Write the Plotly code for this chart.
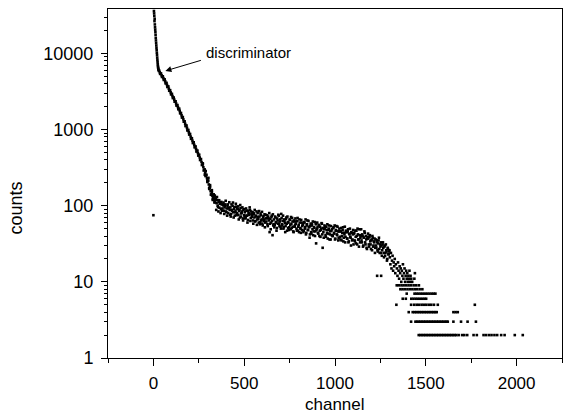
import plotly.graph_objects as go

FONT = "Liberation Sans, Arial, sans-serif"

# ---- data (channel, counts) ----
high_ch = [0, 3, 4, 5, 6, 7, 8, 9, 10, 11, 12, 13, 14, 15, 16, 17, 18, 19, 20,
           21, 22, 23, 24, 25, 26, 27, 28]
high_ct = [75, 36000, 33500, 31000, 26500, 28500, 24000, 22000, 20500, 19000,
           17500, 16000, 14800, 13700, 12700, 11800, 11000, 10200, 9500, 8800,
           8200, 7700, 7200, 6800, 6500, 6300, 6100]

steep_ch = list(range(30, 341, 5))
steep_ct = [5890, 5640, 5400, 5160, 4940, 4730, 4530, 4310, 4070, 3850, 3650,
            3440, 3260, 3080, 2920, 2750, 2610, 2470, 2330, 2200, 2080, 1970,
            1860, 1760, 1640, 1540, 1450, 1360, 1270, 1190, 1120, 1050, 980,
            920, 870, 810, 765, 715, 670, 630, 590, 555, 520, 490, 460, 430,
            405, 375, 345, 320, 295, 270, 250, 230, 210, 190, 172, 155, 141,
            134, 129, 124, 120]

steep2_ch = list(range(32, 338, 5))
steep2_ct = [5920, 5380, 5450, 4900, 5000, 4480, 4560, 4050, 4100, 3620, 3680,
             3230, 3290, 2900, 2940, 2590, 2630, 2320, 2350, 2070, 2100, 1850,
             1880, 1640, 1650, 1440, 1460, 1270, 1280, 1110, 1130, 975, 990,
             860, 875, 755, 770, 665, 680, 585, 600, 515, 530, 455, 468, 398,
             410, 342, 352, 290, 300, 245, 255, 205, 214, 170, 176, 140, 150,
             122, 137, 112]

extra_ch = [272, 283, 288, 297, 303, 308, 312, 318, 322, 327, 332, 337, 338, 342]
extra_ct = [360, 255, 285, 215, 232, 166, 186, 139, 160, 119, 141, 110, 136, 128]

plateau_ch = list(range(344, 1301, 4))
plateau_ct = [
    122, 108, 118, 96, 112, 94, 108, 90, 104, 92,
    101, 86, 95, 104, 84, 92, 99, 80, 94, 88,
    95, 78, 88, 100, 82, 91, 74, 86, 97, 80,
    90, 76, 85, 70, 93, 79, 84, 68, 88, 75,
    82, 70, 86, 74, 65, 80, 76, 88, 69, 78,
    76, 64, 80, 70, 62, 74, 84, 66, 71, 60,
    72, 61, 75, 66, 58, 70, 63, 77, 60, 68,
    69, 57, 72, 64, 45, 67, 60, 74, 41, 55,
    66, 56, 70, 60, 51, 64, 76, 58, 62, 53,
    78, 57, 63, 50, 66, 59, 54, 70, 47, 61,
    60, 52, 65, 49, 58, 69, 53, 45, 62, 56,
    58, 50, 63, 47, 56, 66, 51, 44, 60, 54,
    56, 47, 60, 52, 42, 55, 64, 48, 53, 38,
    54, 45, 58, 49, 41, 52, 61, 46, 32, 50,
    52, 43, 55, 47, 39, 50, 58, 28, 45, 49,
    50, 41, 53, 44, 37, 48, 55, 42, 36, 47,
    49, 40, 52, 43, 36, 47, 54, 41, 46, 38,
    50, 39, 46, 35, 44, 52, 38, 42, 33, 47,
    45, 37, 49, 34, 42, 39, 30, 44, 36, 48,
    43, 35, 47, 32, 40, 50, 36, 29, 41, 38,
    49, 33, 40, 30, 38, 44, 31, 36, 27, 39,
    37, 29, 41, 31, 35, 26, 38, 30, 33, 24,
    36, 28, 33, 25, 35, 27, 31, 24, 30, 26,
    33, 24, 29, 22, 31, 25, 20, 27, 23, 26,
]

plateau2_ch = list(range(346, 1299, 4))
plateau2_ct = [
    88, 130, 100, 84, 118, 106, 80, 112, 86, 104,
    110, 78, 100, 116, 82, 74, 104, 92, 111, 76,
    72, 104, 86, 110, 70, 96, 82, 106, 75, 92,
    98, 66, 88, 102, 72, 81, 95, 64, 90, 73,
    68, 92, 74, 60, 86, 79, 95, 63, 84, 71,
    82, 58, 77, 88, 63, 72, 56, 80, 67, 85,
    57, 79, 64, 83, 55, 73, 66, 52, 76, 62,
    75, 54, 68, 80, 58, 49, 71, 63, 77, 57,
    52, 72, 61, 47, 68, 58, 74, 54, 66, 50,
    69, 55, 74, 52, 63, 45, 67, 58, 72, 51,
    48, 66, 56, 71, 51, 62, 46, 64, 53, 68,
    62, 47, 69, 53, 45, 60, 50, 65, 48, 58,
    45, 61, 50, 66, 44, 57, 48, 63, 52, 42,
    58, 43, 55, 62, 46, 51, 40, 57, 48, 60,
    44, 56, 40, 53, 48, 59, 42, 51, 38, 55,
    53, 39, 48, 57, 43, 50, 36, 46, 54, 41,
    40, 51, 44, 55, 37, 48, 42, 53, 35, 46,
    46, 36, 51, 40, 48, 34, 44, 53, 39, 45,
    37, 46, 33, 43, 50, 38, 45, 35, 42, 31,
    44, 34, 39, 47, 31, 42, 36, 49, 33, 40,
    35, 42, 29, 38, 46, 33, 40, 28, 37, 43,
    31, 39, 34, 27, 36, 40, 29, 34, 37, 28,
    30, 35, 26, 32, 38, 24, 29, 33, 22, 31,
    28, 21, 30, 24, 26, 19, 28, 23, 25,
]

tail_ch = [1232, 1254, 1302, 1305, 1308, 1311, 1314, 1317, 1320, 1323, 1326,
           1329, 1332, 1335, 1338, 1341, 1344, 1347, 1350, 1353, 1356, 1359,
           1362, 1365, 1368, 1371, 1374, 1377, 1380, 1383, 1386, 1389, 1392,
           1395, 1398, 1401, 1404, 1407, 1410, 1413, 1416, 1420, 1425, 1437,
           1440]
tail_ct = [12, 12, 21, 17, 24, 15, 19, 22, 14, 18, 16, 20, 13, 17, 5, 15, 12,
           18, 14, 11, 16, 13, 15, 10, 14, 12, 17, 11, 13, 15, 10, 12, 14, 11,
           13, 10, 12, 11, 14, 10, 12, 11, 10, 11, 13]

# rows of small integer counts in the high-channel tail
row_levels = [9, 8, 7, 6, 5, 4, 3, 2]
row_channels = [
    [1340, 1352, 1366, 1378, 1392, 1405, 1418, 1433, 1447, 1462],
    [1360, 1372, 1385, 1399, 1412, 1426, 1439, 1452, 1466, 1481],
    [1395, 1438, 1449, 1460, 1472, 1484, 1496, 1508, 1520, 1532, 1543, 1553],
    [1373, 1390, 1420, 1432, 1444, 1456, 1468, 1480, 1492, 1502],
    [1419, 1436, 1450, 1463, 1477, 1490, 1503, 1517, 1530, 1545, 1566, 1770],
    [1406, 1428, 1438, 1447, 1457, 1466, 1476, 1485, 1495, 1504, 1514, 1523,
     1533, 1542, 1551, 1560, 1652, 1664, 1676],
    [1419, 1443, 1452, 1461, 1470, 1479, 1488, 1497, 1506, 1515, 1524, 1533,
     1542, 1551, 1560, 1569, 1578, 1587, 1596, 1605, 1614, 1621, 1652, 1694,
     1730, 1776],
    [1461, 1470, 1479, 1488, 1497, 1506, 1515, 1524, 1533, 1542, 1551, 1560,
     1569, 1578, 1587, 1596, 1605, 1614, 1623, 1632, 1641, 1650, 1659, 1668,
     1681, 1700, 1712, 1728, 1763, 1781, 1818, 1832, 1848, 1862, 1878, 1893,
     1915, 1934, 1990, 2034],
]

x_ticks = [0, 500, 1000, 1500, 2000]
x_minor = [-250, 250, 750, 1250, 1750, 2250]
y_ticks = [1, 10, 100, 1000, 10000]
y_ticktext = ["1", "10", "100", "1000", "10000"]
y_minor = [m * d for d in (1, 10, 100, 1000, 10000) for m in range(2, 10)]

# ---- assemble ----
xs = high_ch + steep_ch + steep2_ch + extra_ch + plateau_ch + plateau2_ch + tail_ch
ys = high_ct + steep_ct + steep2_ct + extra_ct + plateau_ct + plateau2_ct + tail_ct
for lvl, chs in zip(row_levels, row_channels):
    xs += chs
    ys += [lvl] * len(chs)

fig = go.Figure(go.Scatter(
    x=xs, y=ys, mode="markers",
    marker=dict(symbol="square", size=2.6, color="black", line=dict(width=0)),
    hoverinfo="skip", showlegend=False,
))

axis_common = dict(
    showline=True, linecolor="black", linewidth=1, mirror=True,
    showgrid=False, zeroline=False, ticks="outside", tickcolor="black",
    tickwidth=1,
)

fig.update_layout(
    width=564, height=415,
    margin=dict(l=108, r=2, t=9, b=57),
    paper_bgcolor="white", plot_bgcolor="white",
    font=dict(family=FONT, color="black"),
    xaxis=dict(axis_common, range=[-250, 2250], tickmode="array",
               tickvals=x_ticks, ticklen=7, ticklabelstandoff=3,
               tickfont=dict(family=FONT, size=17, color="black"),
               minor=dict(tickmode="array", tickvals=x_minor, ticks="outside",
                          ticklen=4, tickcolor="black", showgrid=False)),
    yaxis=dict(axis_common, type="log", range=[0, 4.583], tickmode="array",
               tickvals=y_ticks, ticktext=y_ticktext, ticklen=6,
               ticklabelstandoff=4,
               tickfont=dict(family=FONT, size=18, color="black"),
               minor=dict(tickmode="array", tickvals=y_minor, ticks="outside",
                          ticklen=3, tickcolor="black", showgrid=False)),
    annotations=[
        dict(text="counts", xref="paper", yref="paper", x=-0.203, y=0.431,
             textangle=-90, showarrow=False, xanchor="center", yanchor="middle",
             font=dict(family=FONT, size=18, color="black")),
        dict(text="channel", xref="paper", yref="paper", x=0.5, y=-0.132,
             showarrow=False, xanchor="center", yanchor="middle",
             font=dict(family=FONT, size=17, color="black")),
        dict(text="discriminator", xref="x", yref="y", x=281, y=4.018,
             showarrow=False, xanchor="left", yanchor="middle",
             font=dict(family=FONT, size=15, color="black")),
        dict(text="", xref="x", yref="y", x=66, y=3.77, ax=37, ay=-11,
             showarrow=True, arrowhead=2, arrowsize=1.2, arrowwidth=1,
             arrowcolor="black", standoff=0),
    ],
)

fig.write_html("out.html", config={"displayModeBar": False},
               post_script="document.body.style.margin='0';")
